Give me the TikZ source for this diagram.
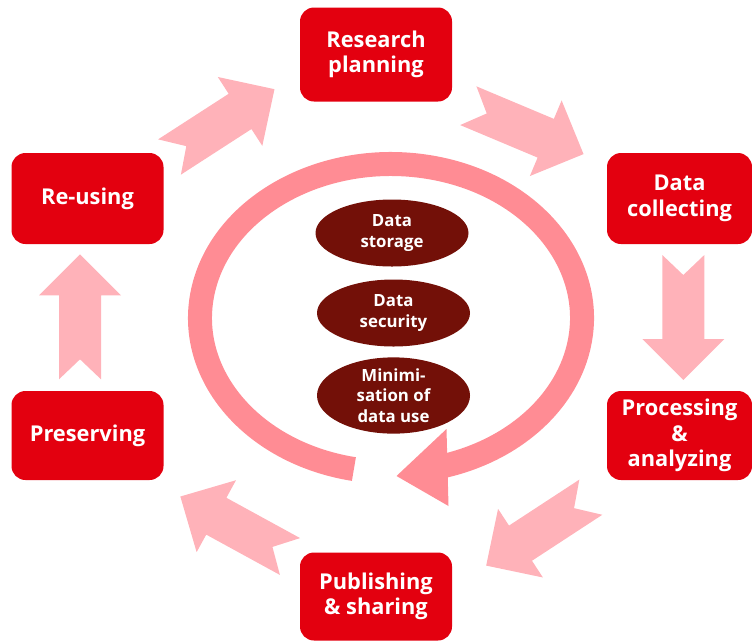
\documentclass[tikz,border=0pt]{standalone}
\usepackage{fontspec}
\setmainfont{Open Sans}
\usetikzlibrary{calc,shapes.geometric}

\definecolor{boxred}{RGB}{227,0,15}
\definecolor{flowpink}{RGB}{255,178,185}
\definecolor{ringpink}{RGB}{255,140,148}
\definecolor{coredark}{RGB}{115,16,8}

\tikzset{
  stage/.style={fill=boxred, rounded corners=14pt, text=white, align=center,
    inner sep=0pt, font=\bfseries\fontsize{21.8}{25.5}\selectfont},
  core/.style={ellipse, fill=coredark, text=white, align=center, inner sep=0pt,
    minimum width=153pt, minimum height=67pt,
    font=\bfseries\fontsize{16.8}{20.5}\selectfont},
  blockarrow/.pic={
    \fill[flowpink] (0,-21) -- (84,-21) -- (84,-41) -- (125,0) -- (84,41)
      -- (84,21) -- (0,21) -- (20,0) -- cycle;
  }
}

\begin{document}
\begin{tikzpicture}[x=1pt, y=-1pt]
  \useasboundingbox (0,0) rectangle (752,641);

  % lifecycle stages
  \node[stage, minimum width=152pt, minimum height=94pt] (plan)    at (376,54.5)   {Research\\planning};
  \node[stage, minimum width=145pt, minimum height=91pt] (collect) at (679.5,198.5) {Data\\collecting};
  \node[stage, minimum width=145pt, minimum height=89pt] (process) at (679.5,435.5) {Processing\\\&\\analyzing};
  \node[stage, minimum width=152pt, minimum height=88pt] (publish) at (376,596.5)  {Publishing\\\& sharing};
  \node[stage, minimum width=152pt, minimum height=89pt] (preserve) at (87.5,435.5) {Preserving};
  \node[stage, minimum width=152pt, minimum height=91pt] (reuse)   at (87.5,198.5) {Re-using};

  % tail and tip of each block arrow between the stages
  \coordinate (ru-pl-s) at (169.5,157);   \coordinate (ru-pl-e) at (274.3,89.3);
  \coordinate (pl-co-s) at (468.3,105.7); \coordinate (pl-co-e) at (583.3,154);
  \coordinate (co-pr-s) at (683.3,255);   \coordinate (co-pr-e) at (683.3,380);
  \coordinate (pr-pu-s) at (590.8,497.2); \coordinate (pr-pu-e) at (486,565.7);
  \coordinate (pu-ps-s) at (290,556.5);   \coordinate (pu-ps-e) at (180.7,496.7);
  \coordinate (ps-ru-s) at (80,379.3);    \coordinate (ps-ru-e) at (80,255);

  \foreach \a in {ru-pl,pl-co,co-pr,pr-pu,pu-ps,ps-ru}
    \path let \p1=($(\a-e)-(\a-s)$), \n1={atan2(\y1,\x1)} in
      (\a-s) pic[rotate=\n1] {blockarrow};

  % central circular arrow
  \coordinate (ringc) at (391,318);
  \draw[ringpink, line width=24pt] (ringc) ++(101.2:191 and 154)
    arc[start angle=101.2, end angle=434, x radius=191, y radius=154];
  \fill[ringpink] (446.5,429) -- (396.5,476) -- (448.5,506) -- cycle;

  % core topics
  \node[core] (storage)  at (392,233)   {Data\\storage};
  \node[core] (security) at (393.5,313) {Data\\security};
  \node[core] (minimise) at (393.5,395.5) {Minimi-\\sation of\\data use};
\end{tikzpicture}
\end{document}
